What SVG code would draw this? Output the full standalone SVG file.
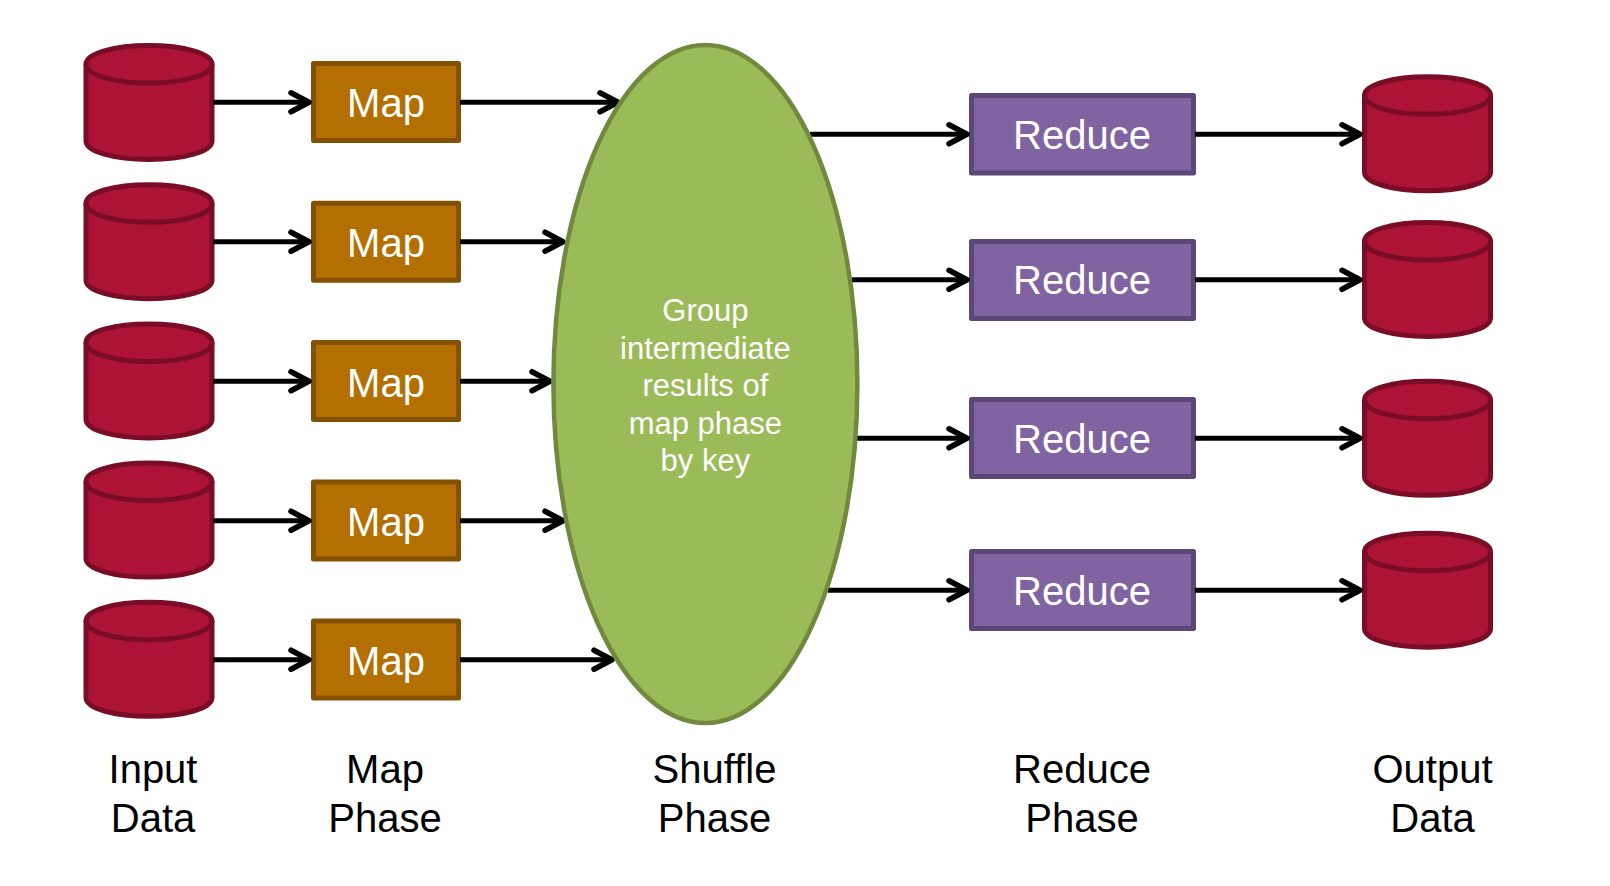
<svg xmlns="http://www.w3.org/2000/svg" width="1610" height="886" viewBox="0 0 1610 886">
<style>
text{font-family:"Liberation Sans",Arial,sans-serif;text-anchor:middle}
.cyl{fill:#ac1336;stroke:#7a0d26;stroke-width:5;stroke-linejoin:round}
.map rect{fill:#b36f00;stroke:#835100;stroke-width:5;stroke-linejoin:round}
.red rect{fill:#8064a2;stroke:#5c4776;stroke-width:5;stroke-linejoin:round}
.box text{font-size:40px;fill:#fff}
.lab text{font-size:40px;fill:#000}
#connectors line{stroke:#000;stroke-width:5;marker-end:url(#ah)}
#shuffle ellipse{fill:#9bbb59;stroke:#71893f;stroke-width:4.5}
#shuffle text{font-size:31px;fill:#fff}
</style>
<defs>
<marker id="ah" markerUnits="userSpaceOnUse" markerWidth="26" markerHeight="28" refX="22" refY="14" orient="auto"><path d="M3 4.500L21 14L3 23.500" fill="none" stroke="#000" stroke-width="5.500" stroke-linecap="round" stroke-linejoin="round"/></marker>
<g id="c"><path d="M0 20.500C0 10 28 2 63 2S126 10 126 20.500V97.500C126 108 98 116 63 116S0 108 0 97.500Z"/><path d="M0 20.500C0 31.500 28 39.500 63 39.500S126 31.500 126 20.500" fill="none"/></g>
</defs>
<g id="input-1" class="cyl"><use href="#c" transform="translate(86 43.500)"/></g>
<g id="input-2" class="cyl"><use href="#c" transform="translate(86 182.700)"/></g>
<g id="input-3" class="cyl"><use href="#c" transform="translate(86 321.900)"/></g>
<g id="input-4" class="cyl"><use href="#c" transform="translate(86 461.100)"/></g>
<g id="input-5" class="cyl"><use href="#c" transform="translate(86 600.300)"/></g>
<g id="map-1" class="box map"><rect x="313.500" y="63.500" width="145" height="77"/><text x="386" y="117">Map</text></g>
<g id="map-2" class="box map"><rect x="313.500" y="203.300" width="145" height="77"/><text x="386" y="257">Map</text></g>
<g id="map-3" class="box map"><rect x="313.500" y="342.500" width="145" height="77"/><text x="386" y="396.500">Map</text></g>
<g id="map-4" class="box map"><rect x="313.500" y="482" width="145" height="77"/><text x="386" y="535.500">Map</text></g>
<g id="map-5" class="box map"><rect x="313.500" y="621" width="145" height="77"/><text x="386" y="675">Map</text></g>
<g id="reduce-1" class="box red"><rect x="971.500" y="95.500" width="222" height="77.500"/><text x="1082" y="148.500">Reduce</text></g>
<g id="reduce-2" class="box red"><rect x="971.500" y="241.500" width="222" height="77"/><text x="1082" y="293.500">Reduce</text></g>
<g id="reduce-3" class="box red"><rect x="971.500" y="399.500" width="222" height="77"/><text x="1082" y="453">Reduce</text></g>
<g id="reduce-4" class="box red"><rect x="971.500" y="551.500" width="222" height="77"/><text x="1082" y="605">Reduce</text></g>
<g id="output-1" class="cyl"><use href="#c" transform="translate(1364.500 74.800)"/></g>
<g id="output-2" class="cyl"><use href="#c" transform="translate(1364.500 220.500)"/></g>
<g id="output-3" class="cyl"><use href="#c" transform="translate(1364.500 379.300)"/></g>
<g id="output-4" class="cyl"><use href="#c" transform="translate(1364.500 531.200)"/></g>
<g id="connectors">
<line x1="213" y1="102.300" x2="310" y2="102.300"/><line x1="213" y1="241.700" x2="310" y2="241.700"/><line x1="213" y1="381.200" x2="310" y2="381.200"/><line x1="213" y1="520.700" x2="310" y2="520.700"/><line x1="213" y1="659.700" x2="310" y2="659.700"/>
<line x1="460" y1="102.300" x2="619" y2="102.300"/><line x1="460" y1="241.700" x2="564" y2="241.700"/><line x1="460" y1="381.200" x2="551" y2="381.200"/><line x1="460" y1="520.700" x2="564" y2="520.700"/><line x1="460" y1="659.700" x2="613" y2="659.700"/>
<line x1="810" y1="134.300" x2="968" y2="134.300"/><line x1="852" y1="279.800" x2="968" y2="279.800"/><line x1="857" y1="438.300" x2="968" y2="438.300"/><line x1="828" y1="590.300" x2="968" y2="590.300"/>
<line x1="1195" y1="134.300" x2="1361" y2="134.300"/><line x1="1195" y1="279.800" x2="1361" y2="279.800"/><line x1="1195" y1="438.300" x2="1361" y2="438.300"/><line x1="1195" y1="590.300" x2="1361" y2="590.300"/>
</g>
<g id="shuffle"><ellipse cx="705.400" cy="384" rx="152" ry="339"/>
<text x="705.400" y="321">Group</text><text x="705.400" y="358.500">intermediate</text><text x="705.400" y="395.500">results of</text><text x="705.400" y="433.500">map phase</text><text x="705.400" y="470.500">by key</text></g>
<g id="labels" class="lab">
<text x="153" y="783">Input</text><text x="153" y="832">Data</text>
<text x="385" y="783">Map</text><text x="385" y="832">Phase</text>
<text x="714.500" y="783">Shuffle</text><text x="714.500" y="832">Phase</text>
<text x="1082" y="783">Reduce</text><text x="1082" y="832">Phase</text>
<text x="1432.500" y="783">Output</text><text x="1432.500" y="832">Data</text>
</g>
</svg>
